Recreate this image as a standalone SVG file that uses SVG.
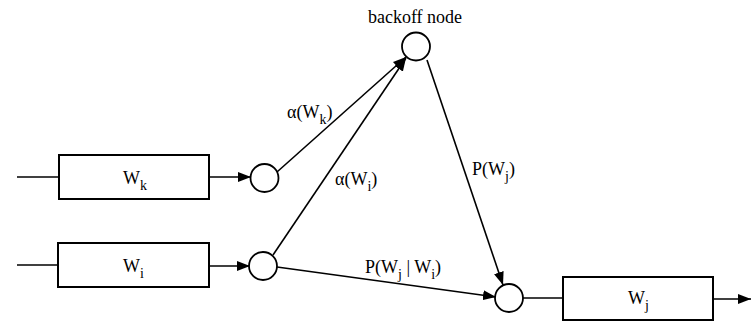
<svg xmlns="http://www.w3.org/2000/svg" width="751" height="321" viewBox="0 0 751 321" font-family="'Liberation Serif', 'DejaVu Serif', serif">
<defs>
<marker id="arr" markerUnits="userSpaceOnUse" markerWidth="14" markerHeight="10" refX="13" refY="5" orient="auto">
<path d="M0,0 L13,5 L0,10 Z" fill="#000"/>
</marker>
<style>
.box{fill:#fff;stroke:#000;stroke-width:2}
.node{fill:#fff;stroke:#000;stroke-width:1.8}
.ln{fill:none;stroke:#000;stroke-width:1.6}
.ar{fill:none;stroke:#000;stroke-width:1.6;marker-end:url(#arr)}
text{font-family:'Liberation Serif','DejaVu Serif',serif;font-size:18px;fill:#000}
.sub{font-size:14px}
</style>
</defs>
<rect width="751" height="321" fill="#fff"/>
<g id="connectors">
<line class="ln" x1="17" y1="177" x2="59" y2="177"/>
<line class="ar" x1="209" y1="177" x2="251" y2="177"/>
<line class="ln" x1="17" y1="265" x2="58" y2="265"/>
<line class="ar" x1="209" y1="266" x2="250" y2="266"/>
<line class="ar" x1="277" y1="172" x2="406" y2="57"/>
<line class="ar" x1="273" y1="255" x2="406" y2="58"/>
<line class="ar" x1="277" y1="267" x2="496" y2="297"/>
<line class="ar" x1="427" y1="60" x2="503" y2="285"/>
<line class="ln" x1="523" y1="298" x2="563" y2="298"/>
<line class="ar" x1="713" y1="299" x2="751" y2="299"/>
</g>
<g id="box-wk">
<rect class="box" x="59" y="155" width="150" height="44"/>
<text x="123" y="184">W<tspan class="sub" dy="6">k</tspan></text>
</g>
<g id="box-wi">
<rect class="box" x="58" y="243" width="151" height="44"/>
<text x="123" y="272">W<tspan class="sub" dy="6">i</tspan></text>
</g>
<g id="box-wj">
<rect class="box" x="563" y="277" width="150" height="43"/>
<text x="628" y="304">W<tspan class="sub" dy="6">j</tspan></text>
</g>
<g id="node-wk">
<circle class="node" cx="264.5" cy="178" r="14"/>
</g>
<g id="node-wi">
<circle class="node" cx="263" cy="266" r="14"/>
</g>
<g id="node-backoff">
<circle class="node" cx="416" cy="46.5" r="14"/>
<text x="415" y="23" text-anchor="middle">backoff node</text>
</g>
<g id="node-wj">
<circle class="node" cx="509" cy="298" r="14"/>
</g>
<g id="labels">
<text x="287" y="118">α(W<tspan class="sub" dy="6">k</tspan><tspan dy="-6">)</tspan></text>
<text x="335" y="185">α(W<tspan class="sub" dy="6">i</tspan><tspan dy="-6">)</tspan></text>
<text x="472" y="175">P(W<tspan class="sub" dy="6">j</tspan><tspan dy="-6">)</tspan></text>
<text x="365" y="273">P(W<tspan class="sub" dy="6">j</tspan><tspan dy="-6"> | W</tspan><tspan class="sub" dy="6">i</tspan><tspan dy="-6">)</tspan></text>
</g>
</svg>
